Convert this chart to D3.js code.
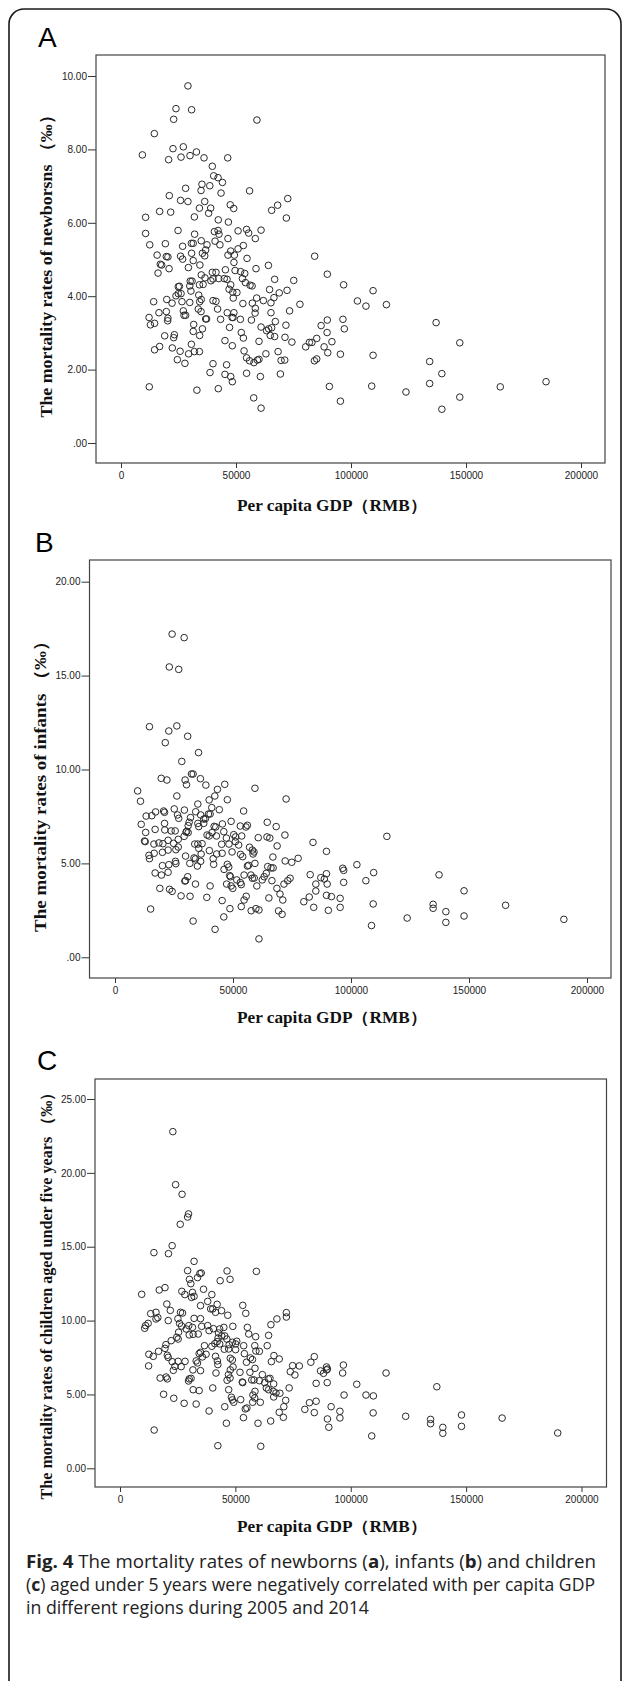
<!DOCTYPE html>
<html>
<head>
<meta charset="utf-8">
<script src="https://cdn.jsdelivr.net/npm/d3@7"></script>
<style>
  html, body { margin: 0; padding: 0; background: #fff; }
  svg { display: block; }
</style>
</head>
<body>
<svg id="fig" width="625" height="1681"></svg>
<script>
// ---- Data -------------------------------------------------------------
const xTicks = [0, 50000, 100000, 150000, 200000];
const xTickLabels = ["0", "50000", "100000", "150000", "200000"];
const xTitle = "Per capita GDP（RMB）";

// Panel A: newborn mortality (‰) against per capita GDP (RMB)
const gdpA = [29100,23900,30700,22900,59100,14500,9300,22600,27100,20700,26100,30000,32800,36100,46400,39700,40300,42200,44100,28100,35200,38600,34800,43500,55900,21000,25900,29100,36400,72500,68100,65500,47500,49000,34100,39000,16800,21600,31900,38100,71900,10700,42300,46700,10700,24800,32000,40600,42200,42600,54600,50900,55500,60900,58400,12500,19300,26800,30600,31400,34900,37400,40900,43000,46500,53200,50900,47700,46500,49300,36800,35400,36400,15700,19700,20400,25900,26800,30700,31400,34300,29300,17100,17700,20900,16100,54800,49100,58700,64100,84200,89700,96800,109600,102800,106500,115400,41300,39700,45400,49600,52000,53800,34900,36500,39100,40000,42500,44900,46100,52800,54100,56100,57000,66800,75100,30100,30900,29900,34100,35700,47700,47000,48600,50400,48800,25400,24900,24900,23900,26100,30400,33800,34900,34200,14200,19900,22200,26500,29900,40000,41300,53000,57100,59000,61900,64600,68800,72200,65200,66500,77800,16500,19700,12200,20400,20300,12800,14600,27100,27400,28100,33600,34800,36800,37200,42000,43300,46200,48300,48700,49100,51900,56700,58400,58300,65200,67100,73300,89700,96500,31600,35400,31400,34200,23200,22900,19000,47200,52300,53200,60900,63300,64200,65500,64900,66800,71700,71300,87000,89600,97100,45200,48400,60000,74300,80300,81900,83000,85100,88300,91700,16800,14600,22300,25700,29400,30600,31900,34100,24500,27800,53500,54600,55900,57800,59300,60000,63000,68300,69600,71200,84100,85100,89900,95400,109600,40000,45900,38700,45200,47700,48400,54600,60600,69300,12300,33000,42300,90600,109000,123900,57700,95400,60900,137000,134200,134200,139500,139500,147300,147300,164900,184800];
const rateA = [9.73,9.11,9.08,8.82,8.80,8.43,7.85,8.02,8.07,7.72,7.79,7.83,7.93,7.77,7.77,7.54,7.28,7.23,7.10,6.94,7.05,7.01,6.88,6.81,6.87,6.74,6.61,6.58,6.58,6.66,6.48,6.34,6.49,6.39,6.40,6.40,6.31,6.29,6.16,6.26,6.13,6.15,6.08,6.02,5.71,5.79,5.69,5.76,5.79,5.69,5.82,5.78,5.72,5.80,5.57,5.40,5.43,5.36,5.44,5.44,5.51,5.40,5.50,5.40,5.57,5.38,5.29,5.23,5.12,5.12,5.26,5.17,5.10,5.12,5.08,5.07,5.09,5.01,5.17,4.97,4.85,4.78,4.87,4.85,4.75,4.63,5.03,4.92,4.75,4.84,5.09,4.60,4.31,4.15,3.87,3.73,3.77,4.65,4.65,4.72,4.70,4.67,4.62,4.58,4.50,4.42,4.47,4.48,4.48,4.46,4.48,4.37,4.30,4.28,4.46,4.43,4.41,4.41,4.28,4.31,4.32,4.31,4.19,4.11,4.10,3.95,4.27,4.26,4.07,4.01,4.07,4.14,4.03,3.91,3.85,3.85,3.91,3.81,3.85,3.83,3.88,3.86,3.80,3.81,3.95,3.88,4.18,4.09,4.16,3.82,3.96,3.78,3.55,3.58,3.42,3.40,3.33,3.22,3.26,3.60,3.48,3.48,3.65,3.58,3.38,3.38,3.65,3.37,3.55,3.42,3.42,3.55,3.37,3.35,3.67,3.54,3.55,3.31,3.60,3.35,3.37,3.23,3.11,3.04,2.93,2.95,2.87,2.92,3.15,3.01,2.86,3.16,3.06,3.11,3.14,2.93,2.90,3.21,2.88,3.20,3.01,3.11,2.79,2.65,2.77,2.75,2.62,2.74,2.74,2.85,2.62,2.76,2.63,2.54,2.59,2.50,2.43,2.69,2.49,2.49,2.27,2.17,2.51,2.32,2.24,2.19,2.26,2.28,2.43,2.49,2.25,2.26,2.24,2.29,2.46,2.42,2.39,2.16,2.13,1.92,1.87,1.81,1.67,1.90,1.81,1.88,1.53,1.44,1.48,1.54,1.55,1.39,1.23,1.14,0.95,3.28,2.22,1.62,1.89,0.92,2.73,1.25,1.53,1.67];
const yTicksA = [0, 2, 4, 6, 8, 10];
const yTickLabelsA = [".00", "2.00", "4.00", "6.00", "8.00", "10.00"];
const yTitleA = "The mortality rates of newborsns （‰）";

// Panel B: infant mortality (‰) against per capita GDP (RMB)
const gdpB = [24200,29300,23000,27000,14600,26200,22800,30800,21300,35400,28300,32400,33100,29700,30300,19600,22000,36200,38500,9600,10800,26200,46500,43400,42300,39900,47600,59300,72500,35100,41000,44200,54500,13200,15600,17200,20600,21000,25100,26500,27000,29400,32000,31400,34200,36300,37600,38300,39600,40300,11100,13000,17000,21000,21100,23800,25500,30400,31000,31000,35100,35500,37600,42000,42700,45500,49200,53100,56100,55500,64500,68300,72000,83900,89600,115200,12500,12800,16500,18600,20300,22500,24800,26800,29300,30100,33800,35100,36900,39000,39900,41100,43000,46100,47200,50300,51100,51000,53700,60700,64400,65600,68700,48300,45200,14400,14600,16600,20100,22500,25800,26800,29900,35500,36500,33500,34100,36300,34900,31700,25600,25800,22800,20100,41600,41800,40000,43100,45400,49600,52400,53200,54100,57000,58200,58500,58900,59300,56600,56100,46200,47600,48200,66900,72100,74900,77600,64700,66100,67000,17000,19700,22500,30800,29900,29600,34100,40300,47300,48600,48900,49200,49900,51600,53100,53500,54700,57600,58200,59000,60100,62400,63200,64100,66500,71600,73200,74200,82700,85100,87200,88700,89600,89900,96500,96900,96900,102500,106300,109600,19000,23100,24200,28000,31800,38900,45400,48700,53500,54700,55600,57700,59700,61000,65200,68600,69900,71100,69300,70800,80000,82300,84200,85100,89600,91700,90400,95400,95400,109400,15100,33100,46100,42400,61000,108700,123800,134800,134800,137300,140200,140200,147900,147900,165500,190200];
const rateB = [17.21,17.02,15.46,15.33,12.28,12.32,12.05,11.77,11.43,10.90,10.43,9.76,9.76,9.44,9.19,9.53,9.44,9.51,9.17,8.86,8.31,8.59,9.21,8.94,8.59,8.38,8.39,9.00,8.43,8.16,7.97,7.86,7.79,7.52,7.54,7.74,7.79,7.72,7.90,7.58,7.40,7.84,7.44,7.19,7.75,7.58,7.36,7.38,7.63,7.63,7.08,6.65,6.81,7.13,6.78,6.73,6.73,6.71,6.64,7.01,7.13,6.96,7.13,6.97,6.94,7.10,7.24,6.99,7.03,6.94,7.19,6.96,6.51,6.12,5.64,6.44,6.19,6.16,6.03,6.09,6.05,6.23,6.07,6.28,6.44,6.67,6.03,6.03,6.05,6.51,6.46,6.64,6.46,6.69,6.35,6.53,6.41,6.16,6.46,6.37,6.41,6.35,5.93,6.03,6.02,5.43,5.25,5.54,5.59,5.71,5.73,5.87,5.39,5.80,5.50,5.29,5.24,5.11,4.86,5.00,5.11,4.99,4.93,4.88,5.25,4.95,5.68,5.50,5.54,5.61,5.98,5.48,5.36,5.86,5.71,5.50,5.61,5.00,4.90,4.86,4.68,4.95,4.81,5.34,5.13,5.06,5.27,4.83,4.76,4.76,4.49,4.38,4.53,4.29,4.08,4.06,3.90,3.80,3.90,4.35,4.29,3.80,3.67,4.12,3.98,3.87,4.38,4.38,4.21,4.22,3.80,4.12,4.29,4.47,4.08,3.90,4.08,4.21,4.40,3.90,4.24,4.17,4.45,3.90,4.74,4.63,3.99,4.93,4.08,4.51,3.67,3.62,3.51,3.27,3.25,3.19,3.02,2.59,2.70,3.05,3.25,2.48,2.59,2.52,3.16,3.67,3.37,3.05,2.47,2.29,2.96,3.21,2.66,3.53,3.30,3.23,2.50,3.14,2.66,2.84,2.57,1.93,2.15,1.49,0.98,1.69,2.09,2.82,2.61,4.39,2.43,1.86,3.54,2.20,2.77,2.02];
const yTicksB = [0, 5, 10, 15, 20];
const yTickLabelsB = [".00", "5.00", "10.00", "15.00", "20.00"];
const yTitleB = "The mortality rates of infants （‰）";

// Panel C: under-five mortality (‰) against per capita GDP (RMB)
const gdpC = [22900,24100,26900,29700,29300,26100,22600,14700,21000,32100,29300,35200,34600,46400,59100,43400,47700,30100,30700,33600,17000,19500,9400,26800,28100,32100,31000,31400,34900,36200,39800,38000,39300,40200,42100,41400,44000,46700,53200,54500,20300,21800,13300,15600,16400,15600,12200,11100,10700,20900,25100,26200,27100,32100,34900,25800,26700,29800,31400,31700,30000,28700,33900,35400,38000,38600,40500,42700,43200,45000,48900,55200,55800,58800,64400,65400,68000,72100,72100,24600,25200,25400,22200,19900,19500,20500,16700,14400,12500,12400,20900,22600,23100,23800,25200,26500,28200,31600,34900,33600,33000,34300,34900,36600,35700,37300,39800,41100,42100,42500,44100,45400,46300,47300,48700,50100,50600,47100,45200,43200,41400,42200,42400,41600,47800,48700,49000,47800,50100,53600,53900,54800,56500,57400,58400,58900,60400,63800,65600,66700,69000,58500,17400,20500,20000,30000,30800,29700,31700,34300,40200,47000,47700,46400,52000,53000,53200,56300,57100,58100,60400,61700,62700,64300,65000,66600,63400,64400,66400,67600,69300,73800,74800,75800,77700,73300,82700,84200,86900,88200,89500,89600,89900,96800,96500,85000,89800,18900,23300,27800,33000,38600,45400,47100,48300,48700,49300,52300,58500,57600,58400,57500,60800,55000,54300,53500,59800,65300,66600,71800,71000,69000,70800,80100,82100,84200,85000,91500,89900,90500,95300,95300,97100,102600,106600,109800,109700,109100,115300,123800,14800,46100,42400,61000,137300,134600,134600,139900,139900,148000,148000,165600,189700];
const rateC = [22.79,19.20,18.55,17.22,17.01,16.52,15.07,14.60,14.53,14.01,13.38,13.22,13.18,13.36,13.33,12.70,12.79,12.79,12.50,12.91,12.07,12.23,11.78,11.98,11.76,11.64,11.57,11.91,11.01,12.12,11.76,11.30,10.79,10.79,11.10,10.56,10.67,10.36,11.03,10.49,11.12,10.69,10.47,10.56,10.20,10.11,9.81,9.66,9.48,10.00,10.13,10.56,10.51,10.15,10.13,9.81,9.63,9.66,9.54,9.07,9.03,9.43,9.09,9.61,9.66,9.32,9.45,9.16,9.43,9.54,9.61,9.54,9.09,8.91,9.00,9.72,10.11,10.54,10.24,8.87,8.75,9.21,8.64,8.37,8.12,7.65,7.92,7.58,7.72,6.93,7.51,7.22,6.63,6.90,7.24,6.88,7.24,6.66,6.61,7.13,7.27,7.76,7.85,8.30,7.54,7.72,8.26,8.44,8.57,8.82,8.96,8.96,8.75,8.37,8.53,8.42,8.60,8.08,8.06,8.42,7.58,7.27,7.02,6.45,7.45,7.33,6.86,6.66,8.03,8.30,7.76,7.18,7.47,7.36,8.30,7.94,7.92,8.30,7.22,7.63,7.40,6.77,6.11,6.05,6.18,6.05,6.09,5.91,5.32,5.26,5.44,6.34,6.11,5.96,6.50,5.84,5.80,6.50,5.98,5.98,5.93,6.34,5.80,6.05,6.09,5.71,5.44,5.32,5.21,5.10,5.08,6.54,6.95,6.32,6.93,5.44,7.18,7.56,6.59,6.43,6.86,6.66,6.72,6.99,6.45,5.75,5.80,5.01,4.74,4.40,4.35,3.88,4.17,5.32,4.81,4.63,4.47,4.65,5.21,4.96,4.76,4.47,4.47,4.08,4.02,3.43,3.05,3.20,4.83,4.60,4.17,3.79,3.45,3.99,4.44,3.77,4.54,4.17,3.34,2.78,3.86,3.41,4.96,5.69,4.96,4.90,3.75,2.19,6.45,3.52,2.59,3.05,1.53,1.49,5.52,3.31,3.02,2.77,2.37,3.61,2.84,3.40,2.39];
const yTicksC = [0, 5, 10, 15, 20, 25];
const yTickLabelsC = ["0.00", "5.00", "10.00", "15.00", "20.00", "25.00"];
const yTitleC = "The mortality rates of children aged under five years （‰）";

const captionLines = [
  [{t: "Fig. 4", b: true}, {t: " The mortality rates of newborns ("}, {t: "a", b: true}, {t: "), infants ("}, {t: "b", b: true}, {t: ") and children"}],
  [{t: "("}, {t: "c", b: true}, {t: ") aged under 5 years were negatively correlated with per capita GDP"}],
  [{t: "in different regions during 2005 and 2014"}]
];

// ---- Layout -----------------------------------------------------------
const panels = [
  { letter: "A", gdp: gdpA, rate: rateA, yTicks: yTicksA, yLabels: yTickLabelsA, yTitle: yTitleA,
    box: {l: 96, t: 55, r: 605, b: 463}, xr: [121, 581], yd: [0, 10], yr: [443, 76],
    letterPos: [38, 47], yTitlePos: [52, 262], yTitleLen: 311, yTitleSize: 17, xTitleY: 511 },
  { letter: "B", gdp: gdpB, rate: rateB, yTicks: yTicksB, yLabels: yTickLabelsB, yTitle: yTitleB,
    box: {l: 89.5, t: 560, r: 611, b: 978}, xr: [115, 587], yd: [0, 20], yr: [957.3, 581.7],
    letterPos: [35, 552], yTitlePos: [45.5, 782], yTitleLen: 300, yTitleSize: 17, xTitleY: 1023 },
  { letter: "C", gdp: gdpC, rate: rateC, yTicks: yTicksC, yLabels: yTickLabelsC, yTitle: yTitleC,
    box: {l: 95, t: 1079, r: 606.5, b: 1487}, xr: [120, 581.5], yd: [0, 25], yr: [1468.3, 1099],
    letterPos: [37, 1070], yTitlePos: [51.5, 1292], yTitleLen: 415, yTitleSize: 16, xTitleY: 1532 }
];

const svg = d3.select("#fig");

// Outer rounded frame around the whole figure
svg.append("rect")
  .attr("x", 9).attr("y", 9)
  .attr("width", 612).attr("height", 1700)
  .attr("rx", 15).attr("ry", 15)
  .attr("fill", "none").attr("stroke", "#1a1a1a").attr("stroke-width", 1.6);

const tickFont = "'Liberation Sans', Arial, sans-serif";
const serifFont = "'Liberation Serif', 'Times New Roman', serif";

panels.forEach(p => {
  const g = svg.append("g");
  const x = d3.scaleLinear().domain([0, 200000]).range(p.xr);
  const y = d3.scaleLinear().domain(p.yd).range(p.yr);

  // Panel letter
  g.append("text")
    .attr("x", p.letterPos[0]).attr("y", p.letterPos[1])
    .attr("font-family", tickFont).attr("font-size", 28)
    .attr("fill", "#000").text(p.letter);

  // Y axis (ticks pointing out of the frame)
  const yAxis = d3.axisLeft(y)
    .tickValues(p.yTicks)
    .tickFormat((d, i) => p.yLabels[i])
    .tickSize(8).tickPadding(1);
  const ya = g.append("g").attr("transform", `translate(${p.box.l},0)`).call(yAxis);
  ya.select(".domain").remove();
  ya.selectAll("line").attr("stroke", "#333");
  ya.selectAll("text").attr("font-family", tickFont).attr("font-size", 10).attr("fill", "#222");

  // X axis
  const xAxis = d3.axisBottom(x)
    .tickValues(xTicks)
    .tickFormat((d, i) => xTickLabels[i])
    .tickSize(5).tickPadding(4);
  const xa = g.append("g").attr("transform", `translate(0,${p.box.b})`).call(xAxis);
  xa.select(".domain").remove();
  xa.selectAll("line").attr("stroke", "#333");
  xa.selectAll("text").attr("font-family", tickFont).attr("font-size", 10).attr("fill", "#222");

  // Plot frame
  g.append("rect")
    .attr("x", p.box.l).attr("y", p.box.t)
    .attr("width", p.box.r - p.box.l).attr("height", p.box.b - p.box.t)
    .attr("fill", "none").attr("stroke", "#444").attr("stroke-width", 1.2);

  // Scatter points
  g.append("g").selectAll("circle")
    .data(d3.range(p.gdp.length))
    .join("circle")
    .attr("cx", i => x(p.gdp[i]))
    .attr("cy", i => y(p.rate[i]))
    .attr("r", 3.3)
    .attr("fill", "none")
    .attr("stroke", "#2a2a2a")
    .attr("stroke-width", 1);

  // Axis titles
  g.append("text")
    .attr("x", 332).attr("y", p.xTitleY)
    .attr("text-anchor", "middle")
    .attr("font-family", serifFont).attr("font-weight", "bold").attr("font-size", 16)
    .attr("textLength", 190).attr("lengthAdjust", "spacingAndGlyphs")
    .attr("fill", "#111").text(xTitle);

  g.append("text")
    .attr("transform", `translate(${p.yTitlePos[0]},${p.yTitlePos[1]}) rotate(-90)`)
    .attr("text-anchor", "middle")
    .attr("font-family", serifFont).attr("font-weight", "bold").attr("font-size", p.yTitleSize)
    .attr("textLength", p.yTitleLen).attr("lengthAdjust", "spacingAndGlyphs")
    .attr("fill", "#111").text(p.yTitle);
});

// Caption, each line fitted to its printed width
const cap = svg.append("g");
const capBaselines = [1568, 1591, 1614];
const capWidths = [570, 569, 343];
captionLines.forEach((line, li) => {
  const t = cap.append("text")
    .attr("x", 26).attr("y", capBaselines[li])
    .attr("font-family", "'Open Sans', 'Noto Sans', sans-serif")
    .attr("font-size", 18.5).attr("fill", "#222")
    .attr("textLength", capWidths[li]).attr("lengthAdjust", "spacingAndGlyphs");
  line.forEach(seg => {
    t.append("tspan").attr("font-weight", seg.b ? "bold" : null).text(seg.t);
  });
});
</script>
</body>
</html>
